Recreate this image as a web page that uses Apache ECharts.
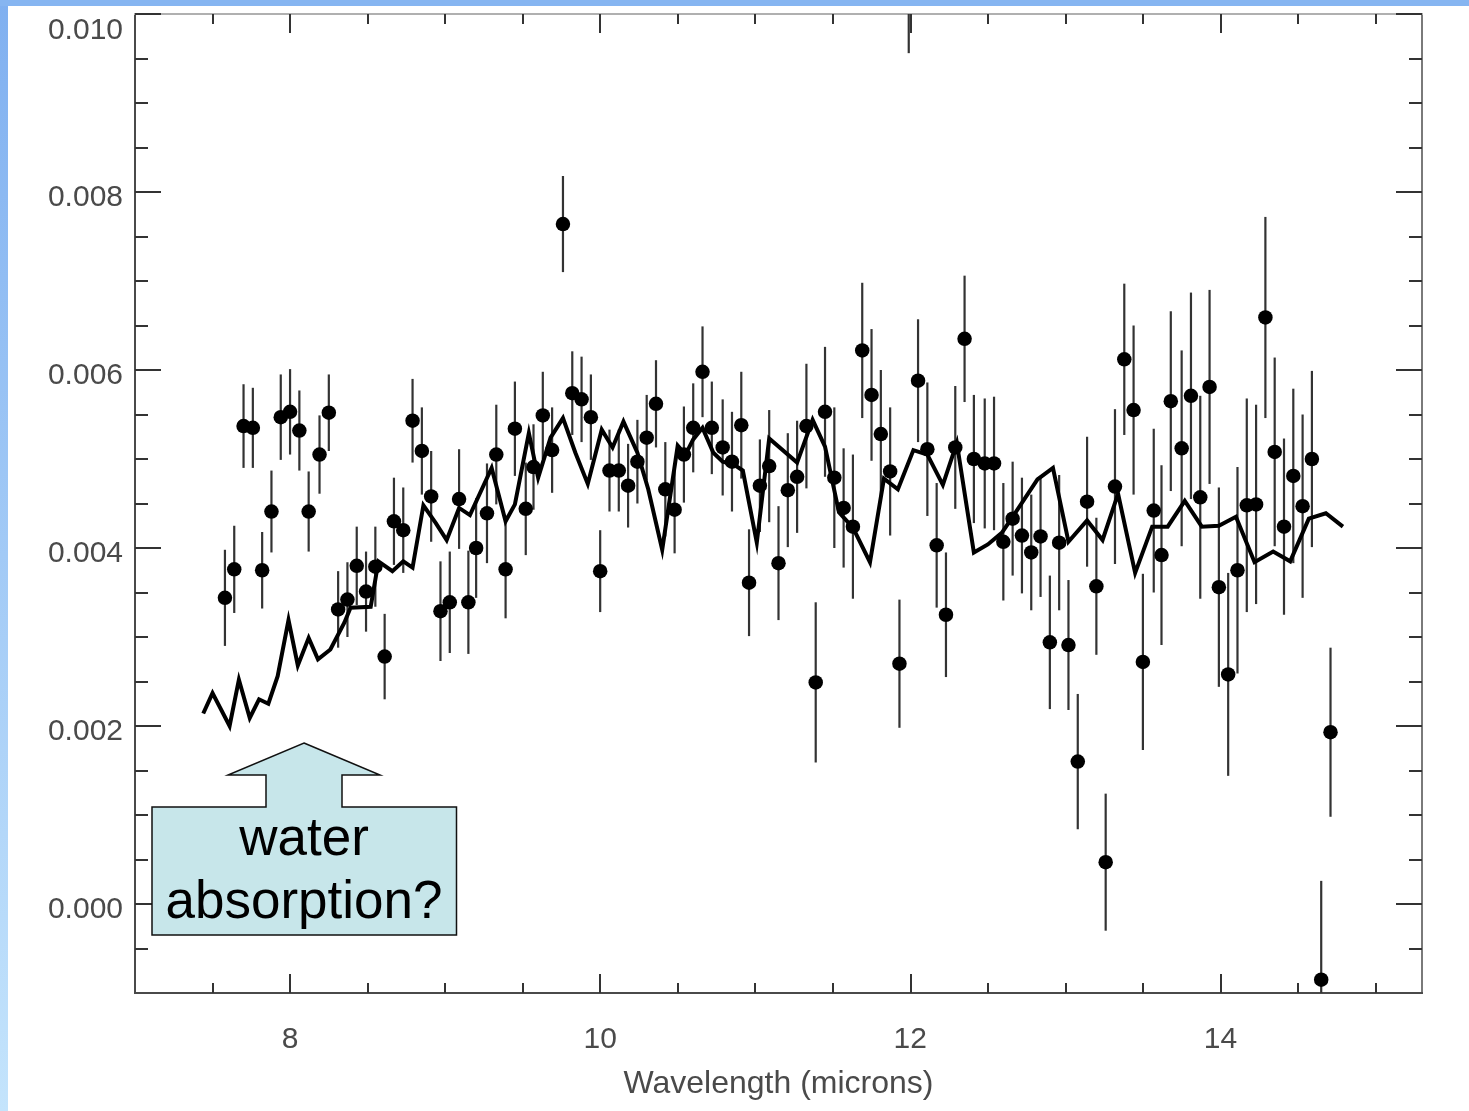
<!DOCTYPE html>
<html>
<head>
<meta charset="utf-8">
<script src="https://cdn.jsdelivr.net/npm/echarts@6/dist/echarts.min.js"></script>
<style>
  html, body { margin: 0; padding: 0; background: #ffffff; }
  #chart { width: 1469px; height: 1111px; }
</style>
</head>
<body>
<div id="chart"></div>
<script>
// Measured planet/star flux ratio with 1-sigma errors
const wavelength = [
  7.58, 7.64, 7.70, 7.76, 7.82, 7.88, 7.94, 8.00, 8.06, 8.12,
  8.19, 8.25, 8.31, 8.37, 8.43, 8.49, 8.55, 8.61, 8.67, 8.73,
  8.79, 8.85, 8.91, 8.97, 9.03, 9.09, 9.15, 9.20, 9.27, 9.33,
  9.39, 9.45, 9.52, 9.57, 9.63, 9.69, 9.76, 9.82, 9.88, 9.94,
  10.00, 10.06, 10.12, 10.18, 10.24, 10.30, 10.36, 10.42, 10.48, 10.54,
  10.60, 10.66, 10.72, 10.79, 10.85, 10.91, 10.96, 11.03, 11.09, 11.15,
  11.21, 11.27, 11.33, 11.39, 11.45, 11.51, 11.57, 11.63, 11.69, 11.75,
  11.81, 11.87, 11.93, 11.99, 12.05, 12.11, 12.17, 12.23, 12.29, 12.35,
  12.41, 12.48, 12.54, 12.60, 12.66, 12.72, 12.78, 12.84, 12.90, 12.96,
  13.02, 13.08, 13.14, 13.20, 13.26, 13.32, 13.38, 13.44, 13.50, 13.57,
  13.62, 13.68, 13.75, 13.81, 13.87, 13.93, 13.99, 14.05, 14.11, 14.17,
  14.23, 14.29, 14.35, 14.41, 14.47, 14.53, 14.59, 14.65, 14.71
];
const flux = [
  0.00344, 0.00376, 0.00537, 0.00535, 0.00375, 0.00441, 0.00547, 0.00553, 0.00532, 0.00441,
  0.00505, 0.00552, 0.00331, 0.00342, 0.00380, 0.00351, 0.00379, 0.00278, 0.00430, 0.00420,
  0.00543, 0.00509, 0.00458, 0.00329, 0.00339, 0.00455, 0.00339, 0.00400, 0.00439, 0.00505,
  0.00376, 0.00534, 0.00444, 0.00491, 0.00549, 0.00510, 0.00764, 0.00574, 0.00567, 0.00547,
  0.00374, 0.00487, 0.00487, 0.00470, 0.00497, 0.00524, 0.00562, 0.00466, 0.00443, 0.00505,
  0.00535, 0.00598, 0.00535, 0.00513, 0.00497, 0.00538, 0.00361, 0.00470, 0.00492, 0.00383,
  0.00465, 0.00480, 0.00537, 0.00249, 0.00553, 0.00479, 0.00445, 0.00424, 0.00622, 0.00572,
  0.00528, 0.00486, 0.00270, 0.01040, 0.00588, 0.00511, 0.00403, 0.00325, 0.00513, 0.00635,
  0.00500, 0.00495, 0.00495, 0.00407, 0.00433, 0.00414, 0.00395, 0.00413, 0.00294, 0.00406,
  0.00291, 0.00160, 0.00452, 0.00357, 0.00047, 0.00469, 0.00612, 0.00555, 0.00272, 0.00442,
  0.00392, 0.00565, 0.00512, 0.00571, 0.00457, 0.00581, 0.00356, 0.00258, 0.00375, 0.00448,
  0.00449, 0.00659, 0.00508, 0.00424, 0.00481, 0.00447, 0.00500, -0.00085, 0.00193
];
const fluxErr = [
  0.00054, 0.00049, 0.00047, 0.00045, 0.00043, 0.00046, 0.00048, 0.00048, 0.00045, 0.00045,
  0.00044, 0.00043, 0.00043, 0.00042, 0.00044, 0.00045, 0.00045, 0.00048, 0.00049, 0.00048,
  0.00047, 0.00049, 0.00051, 0.00056, 0.00057, 0.00056, 0.00058, 0.00056, 0.00056, 0.00056,
  0.00055, 0.00053, 0.00052, 0.00048, 0.00049, 0.00048, 0.00054, 0.00047, 0.00048, 0.00048,
  0.00046, 0.00046, 0.00046, 0.00047, 0.00047, 0.00048, 0.00049, 0.00053, 0.00049, 0.00054,
  0.00050, 0.00051, 0.00052, 0.00054, 0.00056, 0.00060, 0.00060, 0.00052, 0.00063, 0.00064,
  0.00064, 0.00063, 0.00070, 0.00090, 0.00073, 0.00079, 0.00067, 0.00081, 0.00076, 0.00074,
  0.00072, 0.00072, 0.00072, 0.00084, 0.00069, 0.00075, 0.00070, 0.00070, 0.00069, 0.00071,
  0.00072, 0.00073, 0.00075, 0.00066, 0.00064, 0.00065, 0.00065, 0.00068, 0.00075, 0.00076,
  0.00073, 0.00076, 0.00073, 0.00077, 0.00077, 0.00087, 0.00085, 0.00095, 0.00099, 0.00092,
  0.00101, 0.00101, 0.00110, 0.00116, 0.00114, 0.00109, 0.00112, 0.00114, 0.00116, 0.00120,
  0.00112, 0.00113, 0.00106, 0.00099, 0.00098, 0.00103, 0.00099, 0.00111, 0.00095
];

// Model spectrum
const modelWavelength = [
  7.44, 7.50, 7.61, 7.67, 7.74, 7.80, 7.86, 7.92, 7.99, 8.05,
  8.12, 8.18, 8.26, 8.35, 8.39, 8.52, 8.57, 8.66, 8.73, 8.79,
  8.86, 8.94, 9.01, 9.09, 9.16, 9.30, 9.39, 9.45, 9.54, 9.60,
  9.68, 9.76, 9.84, 9.92, 10.01, 10.08, 10.15, 10.24, 10.31, 10.40,
  10.50, 10.55, 10.60, 10.66, 10.73, 10.79, 10.86, 10.92, 11.01, 11.09,
  11.27, 11.37, 11.45, 11.54, 11.63, 11.74, 11.83, 11.92, 12.02, 12.11,
  12.21, 12.30, 12.41, 12.50, 12.59, 12.66, 12.82, 12.92, 13.02, 13.14,
  13.24, 13.34, 13.45, 13.56, 13.66, 13.77, 13.88, 13.99, 14.10, 14.22,
  14.34, 14.45, 14.57, 14.68, 14.79
];
const modelFlux = [
  0.00214, 0.00237, 0.00200, 0.00252, 0.00209, 0.00230, 0.00225, 0.00256, 0.00319, 0.00268,
  0.00299, 0.00275, 0.00286, 0.00316, 0.00333, 0.00334, 0.00385, 0.00374, 0.00385, 0.00378,
  0.00448, 0.00428, 0.00409, 0.00445, 0.00437, 0.00490, 0.00430, 0.00449, 0.00529, 0.00479,
  0.00524, 0.00546, 0.00507, 0.00472, 0.00533, 0.00513, 0.00542, 0.00507, 0.00466, 0.00398,
  0.00515, 0.00505, 0.00522, 0.00535, 0.00507, 0.00497, 0.00494, 0.00487, 0.00406, 0.00523,
  0.00496, 0.00544, 0.00514, 0.00440, 0.00423, 0.00384, 0.00478, 0.00466, 0.00510, 0.00505,
  0.00471, 0.00518, 0.00395, 0.00404, 0.00417, 0.00435, 0.00477, 0.00490, 0.00407, 0.00431,
  0.00409, 0.00461, 0.00372, 0.00424, 0.00424, 0.00453, 0.00424, 0.00425, 0.00435, 0.00384,
  0.00396, 0.00385, 0.00433, 0.00439, 0.00424
];

// Axis tick labels
const xTickLabels = [8, 10, 12, 14];
const yTickLabels = [0, 0.002, 0.004, 0.006, 0.008, 0.010];

const X_MIN = 7, X_MAX = 15.3;
const Y_MIN = -0.001, Y_MAX = 0.010;

const xMinorTicks = [];
for (let v = 7.5; v <= 15; v += 0.5) xMinorTicks.push(v);
const yMinorTicks = [];
for (let i = -1; i <= 19; i++) yMinorTicks.push(i * 5 / 10000);

const FONT = '"Liberation Sans", Arial, Helvetica, sans-serif';
const TICK_COLOR = '#333';
const LABEL_COLOR = '#4a4a4a';

function xAxisDef(position, tickValues, tickLen, withLabels, lineColor) {
  return {
    type: 'value', position: position, min: X_MIN, max: X_MAX,
    axisLine: { show: true, onZero: false, lineStyle: { color: lineColor, width: 2 } },
    axisTick: { show: true, inside: true, length: tickLen, customValues: tickValues,
                lineStyle: { color: TICK_COLOR, width: 2 } },
    axisLabel: withLabels ? {
      show: true, customValues: xTickLabels, margin: 32,
      fontFamily: FONT, fontSize: 30, color: LABEL_COLOR,
      formatter: v => String(v)
    } : { show: false },
    splitLine: { show: false }
  };
}

function yAxisDef(position, tickValues, tickLen, withLabels, lineColor) {
  const top = yTickLabels[yTickLabels.length - 1];
  return {
    type: 'value', position: position, min: Y_MIN, max: Y_MAX,
    axisLine: { show: true, onZero: false, lineStyle: { color: lineColor, width: 2 } },
    axisTick: { show: true, inside: true, length: tickLen, customValues: tickValues,
                lineStyle: { color: TICK_COLOR, width: 2 } },
    axisLabel: withLabels ? {
      show: true, customValues: yTickLabels, margin: 12,
      fontFamily: FONT, fontSize: 30, color: LABEL_COLOR,
      verticalAlignMaxLabel: 'top',
      // the upper-most label sits just below the frame, the others slightly below their ticks
      formatter: v => (Math.abs(v - top) < 1e-9 ? '{t|' : '{n|') + v.toFixed(3) + '}',
      rich: {
        n: { fontFamily: FONT, fontSize: 30, color: LABEL_COLOR, padding: [11, 0, 0, 0] },
        t: { fontFamily: FONT, fontSize: 30, color: LABEL_COLOR, padding: [2, 0, 0, 0] }
      }
    } : { show: false },
    splitLine: { show: false }
  };
}

const points = wavelength.map((w, i) => [w, flux[i], fluxErr[i]]);
const model = modelWavelength.map((w, i) => [w, modelFlux[i]]);

const chart = echarts.init(document.getElementById('chart'), null, { renderer: 'canvas' });

chart.setOption({
  backgroundColor: '#ffffff',
  animation: false,
  grid: { left: 135, right: 47, top: 14, bottom: 118, containLabel: false, outerBoundsMode: 'none' },
  xAxis: [
    Object.assign(xAxisDef('bottom', xTickLabels, 19, true, '#4a4a4a'), {
      name: 'Wavelength (microns)', nameLocation: 'middle', nameGap: 75,
      nameTextStyle: { fontFamily: FONT, fontSize: 32, color: LABEL_COLOR }
    }),
    xAxisDef('bottom', xMinorTicks, 10, false, '#4a4a4a'),
    xAxisDef('top', xTickLabels, 19, false, '#b0b0b0'),
    xAxisDef('top', xMinorTicks, 10, false, '#b0b0b0')
  ],
  yAxis: [
    yAxisDef('left', yTickLabels, 26, true, '#4a4a4a'),
    yAxisDef('left', yMinorTicks, 13, false, '#4a4a4a'),
    yAxisDef('right', yTickLabels, 26, false, '#7a7a7a'),
    yAxisDef('right', yMinorTicks, 13, false, '#7a7a7a')
  ],
  series: [
    {
      name: 'error',
      type: 'custom',
      xAxisIndex: 0, yAxisIndex: 0,
      clip: true,
      data: points,
      encode: { x: 0, y: 1 },
      renderItem: function (params, api) {
        const x = api.value(0), v = api.value(1), e = api.value(2);
        const top = api.coord([x, v + e]);
        const bot = api.coord([x, v - e]);
        return {
          type: 'line',
          shape: { x1: top[0], y1: top[1], x2: bot[0], y2: bot[1] },
          style: { stroke: '#333333', lineWidth: 2.2 }
        };
      },
      z: 2
    },
    {
      name: 'model',
      type: 'line',
      xAxisIndex: 0, yAxisIndex: 0,
      data: model,
      showSymbol: false,
      smooth: false,
      lineStyle: { color: '#000000', width: 4, join: 'miter' },
      clip: true,
      z: 3
    },
    {
      name: 'data',
      type: 'scatter',
      xAxisIndex: 0, yAxisIndex: 0,
      data: points,
      symbol: 'circle',
      symbolSize: 14.5,
      itemStyle: { color: '#000000', opacity: 1 },
      clip: true,
      z: 4
    }
  ],
  graphic: [
    {
      type: 'rect', silent: true, z: 100,
      shape: { x: 0, y: 0, width: 8, height: 1111 },
      style: { fill: new echarts.graphic.LinearGradient(0, 0, 0, 1, [
        { offset: 0, color: '#80b0f0' }, { offset: 1, color: '#c4e4fc' }
      ]) }
    },
    {
      type: 'rect', silent: true, z: 100,
      shape: { x: 0, y: 0, width: 1469, height: 6 },
      style: { fill: '#86b5f1' }
    },
    {
      type: 'polygon', silent: true, z: 100,
      shape: { points: [
        [304, 743], [380, 775], [342, 775], [342, 807], [456.5, 807], [456.5, 935],
        [152, 935], [152, 807], [266, 807], [266, 775], [228, 775]
      ] },
      style: { fill: '#c7e6ea', stroke: '#111111', lineWidth: 1.5 }
    },
    {
      type: 'text', silent: true, z: 101,
      x: 304, y: 840,
      style: { text: 'water', font: '53px ' + FONT, fill: '#000000',
               align: 'center', verticalAlign: 'middle' }
    },
    {
      type: 'text', silent: true, z: 101,
      x: 304, y: 903,
      style: { text: 'absorption?', font: '53px ' + FONT, fill: '#000000',
               align: 'center', verticalAlign: 'middle' }
    }
  ]
});
</script>
</body>
</html>
